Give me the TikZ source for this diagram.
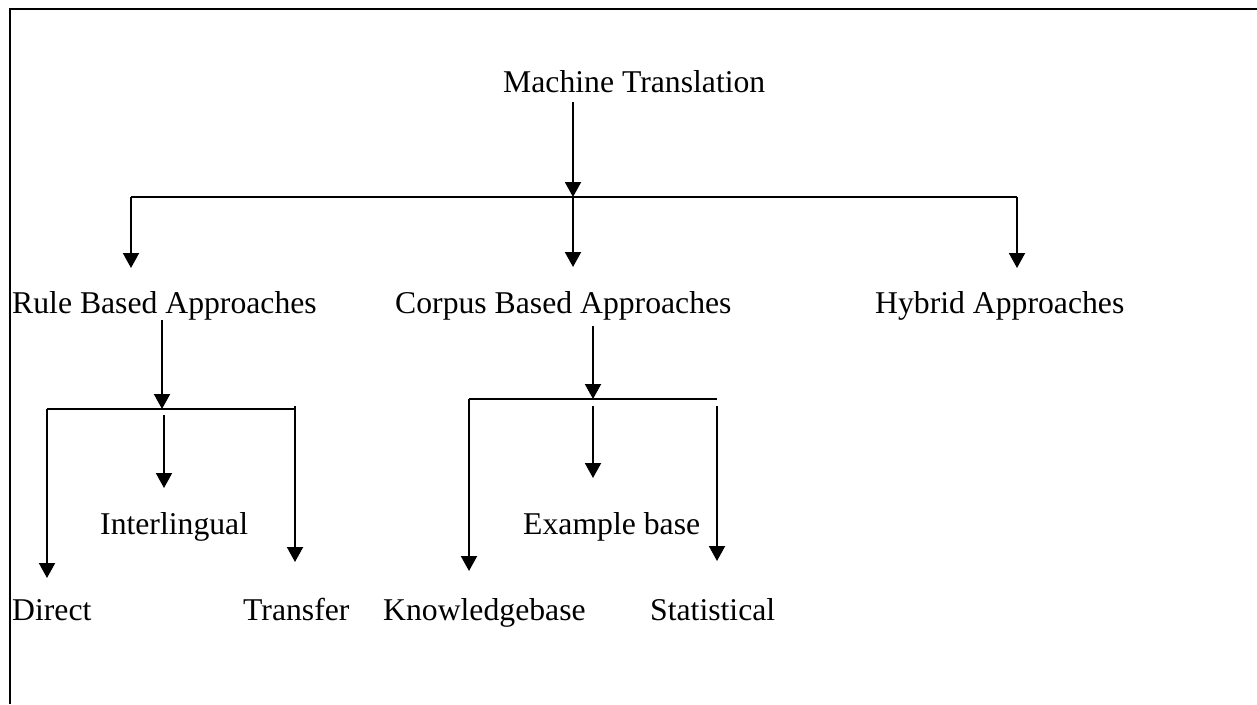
\documentclass[tikz,border=0pt]{standalone}
\usepackage{fontspec}
\setmainfont{Liberation Serif}
\usetikzlibrary{arrows.meta}
\begin{document}
\begin{tikzpicture}[x=1pt,y=-1pt,
  lbl/.style={anchor=base west,inner sep=0pt,font=\fontsize{31.7}{38}\selectfont},
  link/.style={line width=2pt},
  arr/.style={link,-{Triangle[length=15pt,width=16pt]}}]
\useasboundingbox (0,0) rectangle (1257,704);
% open frame: left and top edges only
\draw[line width=2.5pt,line join=miter] (10,704) -- (10,9) -- (1257,9);

% labels
\node[lbl] (mt)  at (503,92)  {Machine Translation};
\node[lbl] (rba) at (12,313)  {Rule Based Approaches};
\node[lbl] (cba) at (395,313) {Corpus Based Approaches};
\node[lbl] (hyb) at (875,313) {Hybrid Approaches};
\node[lbl] (int) at (100,534) {Interlingual};
\node[lbl] (exb) at (523,534) {Example base};
\node[lbl] (dir) at (12,620)  {Direct};
\node[lbl] (tra) at (243,620) {Transfer};
\node[lbl] (kno) at (383,620) {Knowledgebase};
\node[lbl] (sta) at (650,620) {Statistical};

% top level
\coordinate (mtS) at (573,102);
\coordinate (j0)  at (573,197);
\coordinate (b0L) at (131,197);
\coordinate (b0R) at (1017,197);
\coordinate (rbaN) at (131,268);
\coordinate (cbaN) at (573,267);
\coordinate (hybN) at (1017,268);
\draw[arr] (mtS) -- (j0);
\draw[link] (b0L) -- (b0R);
\draw[arr] (b0L) -- (rbaN);
\draw[arr] (j0) -- (cbaN);
\draw[arr] (b0R) -- (hybN);

% rule based branch
\coordinate (rbaS) at (162,320);
\coordinate (j1)   at (162,409);
\coordinate (b1L)  at (47,409);
\coordinate (b1R)  at (295,409);
\coordinate (b1Rt) at (295,406);
\coordinate (b1M)  at (164,415);
\coordinate (intN) at (164,488);
\coordinate (dirN) at (47,578);
\coordinate (traN) at (295,562);
\draw[arr] (rbaS) -- (j1);
\draw[link] (b1L) -- (b1R);
\draw[arr] (b1L) -- (dirN);
\draw[arr] (b1Rt) -- (traN);
\draw[arr] (b1M) -- (intN);

% corpus based branch
\coordinate (cbaS) at (593,326);
\coordinate (j2)   at (593,399);
\coordinate (b2L)  at (469,399);
\coordinate (b2R)  at (717,399);
\coordinate (b2Rt) at (717,406);
\coordinate (b2M)  at (593,406);
\coordinate (exbN) at (593,478);
\coordinate (knoN) at (469,571);
\coordinate (staN) at (717,561);
\draw[arr] (cbaS) -- (j2);
\draw[link] (b2L) -- (b2R);
\draw[arr] (b2L) -- (knoN);
\draw[arr] (b2Rt) -- (staN);
\draw[arr] (b2M) -- (exbN);
\end{tikzpicture}
\end{document}
